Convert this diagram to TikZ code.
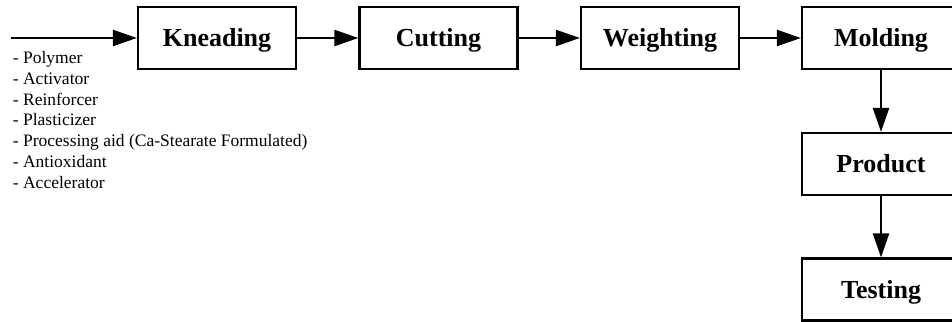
\documentclass[tikz,border=0pt]{standalone}
\usepackage{fontspec}
\setmainfont{Liberation Serif}
\usetikzlibrary{arrows.meta}
\begin{document}
\begin{tikzpicture}[x=1pt,y=-1pt,
 box/.style={draw,line width=2.2pt,minimum width=158pt,minimum height=62pt,inner sep=0pt,text height=17pt,text depth=0pt,font=\fontsize{26}{30}\selectfont\bfseries},
 item/.style={anchor=base west,inner sep=0pt,font=\fontsize{17.5}{21}\selectfont},
 flow/.style={line width=2.2pt,-{Triangle[length=24pt,width=16pt]}}]
\useasboundingbox (0,0) rectangle (952,321);
\clip (0,0) rectangle (952,321);
\node[box] (knead) at (217,38) {Kneading};
\node[box] (cut) at (438.5,38) {Cutting};
\node[box] (weigh) at (660,38) {Weighting};
\node[box] (mold) at (881,38) {Molding};
\node[box] (prod) at (881,164) {Product};
\node[box] (test) at (881,289.5) {Testing};
\coordinate (in) at (11,38);
\draw[flow] (in) -- (knead);
\draw[flow] (knead) -- (cut);
\draw[flow] (cut) -- (weigh);
\draw[flow] (weigh) -- (mold);
\draw[flow] (mold) -- (prod);
\draw[flow] (prod) -- (test);
\node[item] (l1) at (12.7,63.5) {- Polymer};
\node[item] (l2) at (12.7,84.3) {- Activator};
\node[item] (l3) at (12.7,105.1) {- Reinforcer};
\node[item] (l4) at (12.7,125.9) {- Plasticizer};
\node[item] (l5) at (12.7,146.7) {- Processing aid (Ca-Stearate Formulated)};
\node[item] (l6) at (12.7,167.5) {- Antioxidant};
\node[item] (l7) at (12.7,188.3) {- Accelerator};
\end{tikzpicture}
\end{document}
